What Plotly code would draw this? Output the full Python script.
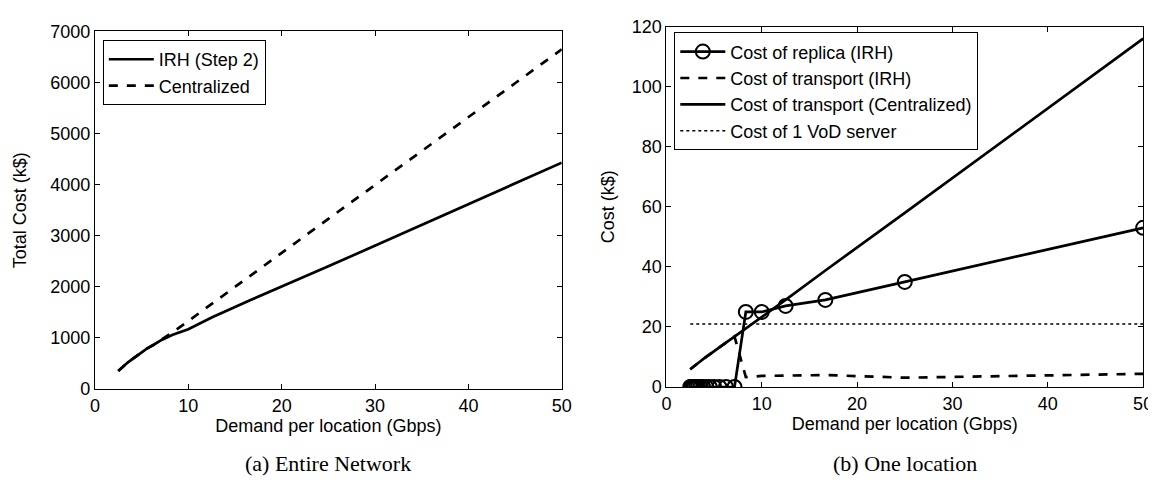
import plotly.graph_objects as go

# Demand per location (Gbps): 50/n for n = 20..1
demand = [2.5, 2.63, 2.78, 2.94, 3.13, 3.33, 3.57, 3.85, 4.17, 4.55,
          5.0, 5.56, 6.25, 7.14, 8.33, 10.0, 12.5, 16.67, 25.0, 50.0]

# (a) Entire network, total cost (k$)
total_irh = [350, 375, 400, 425, 455, 490, 525, 565, 610, 660,
             720, 790, 860, 960, 1060, 1170, 1400, 1740, 2400, 4430]
total_central = [350, 375, 400, 425, 455, 490, 525, 565, 610, 660,
                 720, 790, 860, 960, 1110, 1330, 1660, 2220, 3330, 6650]

# (b) One location, cost (k$)
replica_irh = [0, 0, 0, 0, 0, 0, 0, 0, 0, 0,
               0, 0, 0, 0, 25, 25, 27, 29, 35, 53]
transport_central = [5.9, 6.2, 6.5, 6.9, 7.4, 8.0, 8.6, 9.3, 10.0, 10.9,
                     11.8, 13.1, 14.8, 16.8, 19.5, 23.2, 29.0, 38.8, 58.0, 116.0]
transport_irh = [5.9, 6.2, 6.5, 6.9, 7.4, 8.0, 8.6, 9.3, 10.0, 10.9,
                 11.8, 13.1, 14.8, 16.8, 3.3, 3.7, 3.8, 4.0, 3.1, 4.4]
vod_x = [2.5, 50.0]
vod_cost = [21, 21]

W, H = 1156, 482
FONT = "Liberation Sans, Arial, sans-serif"
SERIF = "Liberation Serif, Times New Roman, serif"
LW = 2.7

fig = go.Figure()

# Left panel
fig.add_trace(go.Scatter(x=demand, y=total_irh, mode="lines", name="IRH (Step 2)",
                         line=dict(color="black", width=LW), xaxis="x", yaxis="y",
                         legend="legend"))
fig.add_trace(go.Scatter(x=demand, y=total_central, mode="lines", name="Centralized",
                         line=dict(color="black", width=LW, dash="dash"), xaxis="x", yaxis="y",
                         legend="legend"))

# Right panel
fig.add_trace(go.Scatter(x=demand, y=replica_irh, mode="lines+markers", name="Cost of replica (IRH)",
                         line=dict(color="black", width=LW),
                         marker=dict(symbol="circle-open", size=14, color="black",
                                     line=dict(width=2, color="black")),
                         xaxis="x2", yaxis="y2", legend="legend2"))
fig.add_trace(go.Scatter(x=demand, y=transport_irh, mode="lines", name="Cost of transport (IRH)",
                         line=dict(color="black", width=LW, dash="dash"),
                         xaxis="x2", yaxis="y2", legend="legend2"))
fig.add_trace(go.Scatter(x=demand, y=transport_central, mode="lines",
                         name="Cost of transport (Centralized)",
                         line=dict(color="black", width=LW),
                         xaxis="x2", yaxis="y2", legend="legend2"))
fig.add_trace(go.Scatter(x=vod_x, y=vod_cost, mode="lines", name="Cost of 1 VoD server",
                         line=dict(color="black", width=1.6, dash="dot"),
                         xaxis="x2", yaxis="y2", legend="legend2"))

axis_common = dict(showline=True, linecolor="black", linewidth=1, mirror="ticks",
                   ticks="inside", ticklen=5, tickcolor="black", showgrid=False,
                   zeroline=False, tickfont=dict(family=FONT, size=18, color="black"))


def px_x(p):
    return p / W


def px_y(p):
    return 1 - p / H


title_font = dict(family=FONT, size=18, color="black")
legend_font = dict(family=FONT, size=18, color="black")

fig.update_layout(
    width=W, height=H,
    margin=dict(l=0, r=0, t=0, b=0),
    paper_bgcolor="white", plot_bgcolor="white",
    font=dict(family=FONT, size=18, color="black"),
    xaxis=dict(domain=[px_x(83), px_x(556)], range=[0, 50], tick0=0, dtick=10,
               anchor="y",
               title=dict(text="Demand per location (Gbps)", standoff=3, font=title_font),
               **axis_common),
    yaxis=dict(domain=[px_y(387), px_y(14)], range=[0, 7000], tick0=0, dtick=1000,
               anchor="x",
               title=dict(text="Total Cost (k$)", standoff=18, font=title_font),
               **axis_common),
    xaxis2=dict(domain=[px_x(662), px_x(1145)], range=[0, 50], tick0=0, dtick=10,
                anchor="y2",
                title=dict(text="Demand per location (Gbps)", standoff=3, font=title_font),
                **axis_common),
    yaxis2=dict(domain=[px_y(385), px_y(9)], range=[0, 120], tick0=0, dtick=20,
                anchor="x2",
                title=dict(text="Cost (k$)", standoff=12, font=title_font),
                **axis_common),
    legend=dict(x=px_x(91), y=px_y(23), xanchor="left", yanchor="top",
                bgcolor="white", bordercolor="black", borderwidth=1,
                font=legend_font, itemwidth=45, tracegroupgap=0),
    legend2=dict(x=px_x(670), y=px_y(15), xanchor="left", yanchor="top",
                 bgcolor="white", bordercolor="black", borderwidth=1,
                 font=legend_font, itemwidth=45, tracegroupgap=0),
    showlegend=True,
    annotations=[
        dict(text="(a) Entire Network", x=px_x((83 + 556) / 2), y=px_y(465),
             xref="paper", yref="paper", showarrow=False, xanchor="center", yanchor="middle",
             font=dict(family=SERIF, size=22, color="black")),
        dict(text="(b) One location", x=px_x((662 + 1145) / 2), y=px_y(465),
             xref="paper", yref="paper", showarrow=False, xanchor="center", yanchor="middle",
             font=dict(family=SERIF, size=22, color="black")),
    ],
)

fig.write_html("out.html")
